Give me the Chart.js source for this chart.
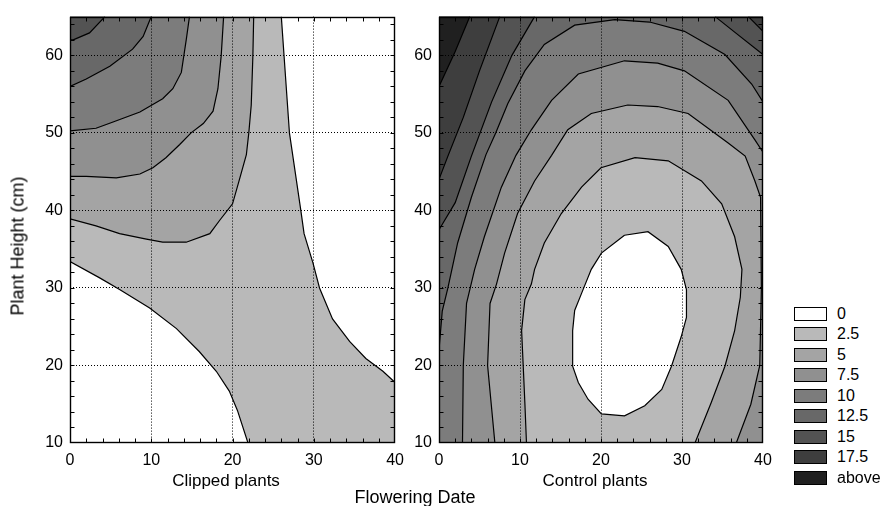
<!DOCTYPE html>
<html>
<head>
<meta charset="utf-8">
<title>Flowering date vs plant height</title>
<script src="https://cdn.jsdelivr.net/npm/chart.js@4.4.1/dist/chart.umd.min.js"></script>
<style>
  html, body { margin: 0; padding: 0; background: #fff; }
  #page {
    position: relative; width: 889px; height: 506px; overflow: hidden;
    font-family: 'Liberation Sans', Arial, Helvetica, sans-serif; color: #000;
  }
  .panel { position: absolute; top: 0; height: 506px; }
  .lbl { position: absolute; white-space: nowrap; transform: translate(-50%, -50%); }
  .key { position: absolute; left: 794px; width: 31px; height: 12px; border: 1px solid #000; }
  .keytxt { position: absolute; left: 837px; font-size: 16px; line-height: 16px; transform: translateY(-50%); }
</style>
</head>
<body>
<div id="page">
  <div class="panel" style="left:0;width:412px"><canvas id="clipped"></canvas></div>
  <div class="panel" style="left:400px;width:390px"><canvas id="control"></canvas></div>
  <div class="lbl" style="left:18px;top:246px;font-size:18px;transform:translate(-50%,-50%) rotate(-90deg)">Plant Height (cm)</div>
  <div class="lbl" style="left:226px;top:481px;font-size:17px">Clipped plants</div>
  <div class="lbl" style="left:595px;top:481px;font-size:17px">Control plants</div>
  <div class="lbl" style="left:415px;top:497px;font-size:18px">Flowering Date</div>
  <div id="legend"></div>
</div>
<script>
// axis ranges (Flowering Date on x, Plant Height on y)
const X_MIN = 0, X_MAX = 40, Y_MIN = 10, Y_MAX = 65;
const MINOR_STEP = 2;

// contour levels and their fills
const LEVELS = ['0', '2.5', '5', '7.5', '10', '12.5', '15', '17.5', 'above'];
const LEVEL_COLORS = ['#ffffff', '#b9b9b9', '#a4a4a4', '#909090', '#7c7c7c',
                      '#686868', '#535353', '#3e3e3e', '#202020'];

// --- Clipped plants: contour lines [flowering date, plant height] ---
const clip0Lower = [[0,33.4],[3.65,31.3],[6.1,29.8],[9.8,27.4],[13.1,24.75],[15.9,21.8],
                    [18.0,19.25],[19.6,16.7],[20.6,14.2],[21.9,10]];
const clip0Upper = [[26.0,65],[26.5,57.5],[27.0,50],[28.4,40],[28.8,37.0],[29.9,33.2],
                    [30.7,30],[32.3,26.0],[34.4,23.1],[36.4,20.9],[38.5,19.25],[40,17.8]];
const clip2_5 = [[0,38.9],[3.2,38.0],[6.1,37.0],[9.4,36.3],[11.4,35.9],[14.3,35.9],[17.2,37.0],
                 [18.4,38.7],[20.0,40.85],[20.8,43.8],[21.7,47.2],[22.0,50],[22.3,53.6],[22.5,59.9],[22.6,65]];
const clip5 = [[0,44.4],[2.0,44.4],[5.7,44.2],[8.6,44.7],[10.2,45.5],[11.8,46.8],[13.5,48.5],
               [14.9,50],[16.4,51.2],[17.6,52.8],[18.2,55.7],[18.6,59.9],[18.9,65]];
const clip7_5 = [[0,50.25],[3.2,50.6],[5.3,51.4],[8.6,52.7],[11.4,54.4],[12.65,55.7],
                 [13.7,57.8],[14.3,62.0],[14.7,65]];
const clip10 = [[0,56.0],[2.0,56.95],[4.9,58.6],[7.7,60.8],[9.0,62.45],[10.0,65]];
const clip12_5 = [[0,62.0],[0.4,62.0],[2.4,62.9],[4.3,65]];

// --- Control plants ---
const ctrl0 = [[22.9,36.8],[25.8,37.25],[28.3,35.35],[29.9,32.4],[30.55,29.8],[30.55,26.2],
               [29.9,23.7],[28.7,19.9],[27.5,16.9],[25.4,14.8],[22.9,13.5],[20.05,13.75],
               [18.4,15.65],[17.2,17.8],[16.5,19.9],[16.5,24.5],[16.75,27.1],[17.6,29.3],
               [18.8,32.4],[20.05,34.5],[22.9,36.8]];
const ctrl2_5 = [[10.8,10],[10.6,15.2],[10.4,19.9],[10.2,24.5],[10.6,28.5],[11.4,30.5],[11.8,32.4],
                 [13.0,35.8],[15.1,39.6],[17.6,43.0],[20.0,45.5],[24.2,46.8],[28.3,46.4],[32.4,43.8],
                 [34.9,40.85],[36.5,36.6],[37.4,32.4],[37.2,28.8],[36.5,24.5],[35.3,19.9],[33.6,15.2],[31.6,10]];
const ctrl5 = [[6.9,10],[6.0,20],[6.3,28],[7.1,30.5],[8.1,34.5],[9.7,39.6],[11.8,43.8],[13.9,47.1],
               [15.9,50.4],[18.8,52.5],[23.3,53.6],[27.0,53.4],[30.75,52.5],[35.7,48.7],[37.8,47.0],
               [39.0,43.8],[39.7,41.7],[39.8,30],[39.6,20],[38.5,15],[36.7,10]];
const ctrl7_5 = [[2.9,10],[3.0,20],[3.4,28],[4.4,32.4],[5.6,36.6],[7.7,43.0],[9.5,47.1],[11.4,50.4],
                 [13.9,54.2],[17.2,57.6],[22.9,59.3],[27.0,59.0],[30.3,58.0],[35.7,54.2],[39.0,49.1],[40,47.5]];
const ctrl10 = [[0,22],[0.4,27],[1.1,30],[2.3,35.8],[4.0,41.7],[5.8,47.2],[7.0,50.0],[8.5,53.8],
                [10.6,58.0],[13.0,61.4],[16.75,63.9],[21.7,64.6],[26.0,64.3],[30.3,63.1],[35.3,60.1],
                [38.6,56.3],[40,54]];
const ctrl12_5L = [[0,37.5],[2.0,41],[4.0,47],[6.5,54],[9.0,60],[11.8,65]];
const ctrl12_5R = [[34.1,65],[36.5,63],[40,60.1]];
const ctrl15L = [[0,44],[1.1,47],[3.0,52],[5.0,58],[7.5,65]];
const ctrl15R = [[38.2,65],[40,63.1]];
const ctrl17_5 = [[0,56],[2.0,60.5],[3.8,65]];

// corners of the plotting region
const BL = [X_MIN, Y_MIN], BR = [X_MAX, Y_MIN], TR = [X_MAX, Y_MAX], TL = [X_MIN, Y_MAX];

const tickFont = { family: "'Liberation Sans', Arial, Helvetica, sans-serif", size: 16 };

const pts = a => a.map(([x, y]) => ({ x, y }));

function area(points, level) {
  return {
    data: pts(points), showLine: true, fill: 'shape',
    backgroundColor: LEVEL_COLORS[level], borderColor: 'rgba(0,0,0,0)', borderWidth: 0,
    pointRadius: 0, tension: 0
  };
}

function contour(points) {
  return {
    data: pts(points), showLine: true, fill: false,
    borderColor: '#000', borderWidth: 1.2, pointRadius: 0, tension: 0
  };
}

// first entry is painted first (bottom)
function stackLayers(layers) {
  return layers.map((d, i) => ({ ...d, order: layers.length - i }));
}

// frame + small inward ticks every 2 units
const framePlugin = {
  id: 'frame',
  afterDraw(chart) {
    const { ctx, chartArea: a, scales: { x, y } } = chart;
    const L = Math.round(a.left) + 0.5, R = Math.round(a.right) - 0.5;
    const T = Math.round(a.top) + 0.5, B = Math.round(a.bottom) - 0.5;
    ctx.save();
    ctx.strokeStyle = '#000';
    ctx.lineWidth = 1;
    ctx.beginPath();
    for (let v = X_MIN + MINOR_STEP; v < X_MAX; v += MINOR_STEP) {
      const px = Math.round(x.getPixelForValue(v)) + 0.5;
      ctx.moveTo(px, B); ctx.lineTo(px, B - 4);
      ctx.moveTo(px, T); ctx.lineTo(px, T + 4);
    }
    for (let v = Y_MIN + MINOR_STEP; v < Y_MAX; v += MINOR_STEP) {
      const py = Math.round(y.getPixelForValue(v)) + 0.5;
      ctx.moveTo(L, py); ctx.lineTo(L + 4, py);
      ctx.moveTo(R, py); ctx.lineTo(R - 4, py);
    }
    ctx.stroke();
    ctx.lineWidth = 1.4;
    ctx.strokeRect(L, T, R - L, B - T);
    ctx.restore();
  }
};

function gridColor(ctx, lo, hi) {
  const v = ctx.tick && ctx.tick.value;
  return (v > lo && v < hi && v % 10 === 0) ? '#000' : 'rgba(0,0,0,0)';
}

function panelChart(id, datasets, yWidth, rightPad) {
  return new Chart(document.getElementById(id), {
    type: 'scatter',
    data: { datasets },
    options: {
      responsive: true,
      maintainAspectRatio: false,
      animation: false,
      layout: { padding: { top: 10, right: rightPad, bottom: 0, left: 0 } },
      plugins: { legend: { display: false }, tooltip: { enabled: false } },
      scales: {
        x: {
          type: 'linear', min: X_MIN, max: X_MAX,
          ticks: { stepSize: 10, padding: 8, color: '#000', font: tickFont, maxRotation: 0 },
          grid: { z: 1, drawTicks: false, lineWidth: 1, color: c => gridColor(c, X_MIN, X_MAX) },
          border: { display: false, dash: [1, 2] },
          afterFit: s => { s.height = 63; }
        },
        y: {
          type: 'linear', min: Y_MIN, max: Y_MAX,
          ticks: { stepSize: 10, includeBounds: false, padding: 7, color: '#000', font: tickFont },
          grid: { z: 1, drawTicks: false, lineWidth: 1, color: c => gridColor(c, Y_MIN, Y_MAX) },
          border: { display: false, dash: [1, 2] },
          afterFit: s => { s.width = yWidth; }
        }
      }
    },
    plugins: [framePlugin]
  });
}

// Clipped plants: higher values toward the upper left
const clippedSets = stackLayers([
  area([...clip0Lower, BR, ...clip0Upper.slice().reverse(), TL], 1),
  area([...clip2_5, TL], 2),
  area([...clip5, TL], 3),
  area([...clip7_5, TL], 4),
  area([...clip10, TL], 5),
  area([...clip12_5, TL], 6),
  contour(clip0Lower), contour(clip0Upper), contour(clip2_5), contour(clip5),
  contour(clip7_5), contour(clip10), contour(clip12_5)
]);

// Control plants: low-value core, rising outward
const controlSets = stackLayers([
  area([BL, BR, TR, TL], 1),
  area([...ctrl2_5, BR, TR, TL, BL], 2),
  area([...ctrl5, BR, TR, TL, BL], 3),
  area([...ctrl7_5, TR, TL, BL], 4),
  area([...ctrl10, TR, TL], 5),
  area([...ctrl12_5L, TL], 6),
  area([...ctrl12_5R, TR], 6),
  area([...ctrl15L, TL], 7),
  area([...ctrl15R, TR], 7),
  area([...ctrl17_5, TL], 8),
  area(ctrl0, 0),
  contour(ctrl0), contour(ctrl2_5), contour(ctrl5), contour(ctrl7_5), contour(ctrl10),
  contour(ctrl12_5L), contour(ctrl12_5R), contour(ctrl15L), contour(ctrl15R), contour(ctrl17_5)
]);

panelChart('clipped', clippedSets, 70, 16);
panelChart('control', controlSets, 39, 27);

// legend
const LEGEND_TOP = 313.5, LEGEND_STEP = 20.5;
const legend = document.getElementById('legend');
LEVELS.forEach((name, i) => {
  const cy = LEGEND_TOP + i * LEGEND_STEP;
  const box = document.createElement('div');
  box.className = 'key';
  box.style.top = (cy - 7) + 'px';
  box.style.background = LEVEL_COLORS[i];
  legend.appendChild(box);
  const txt = document.createElement('div');
  txt.className = 'keytxt';
  txt.style.top = cy + 'px';
  txt.textContent = name;
  legend.appendChild(txt);
});
</script>
</body>
</html>
